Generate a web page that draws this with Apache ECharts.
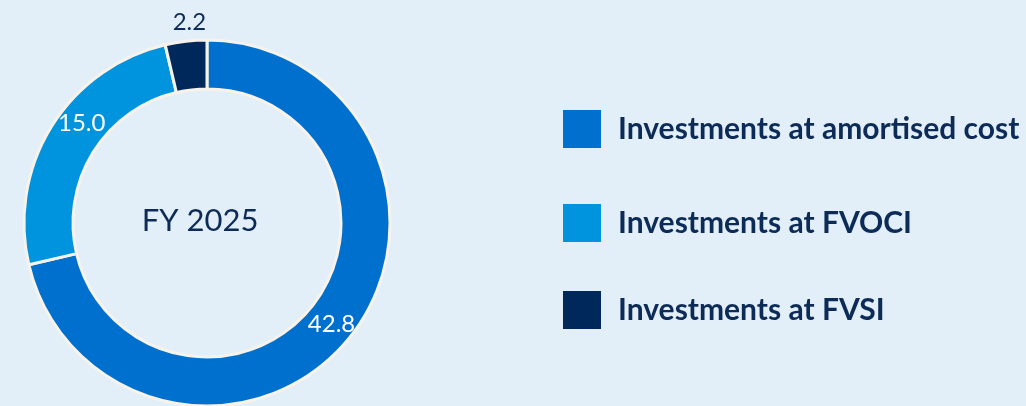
<!DOCTYPE html>
<html>
<head>
<meta charset="utf-8">
<script src="https://cdn.jsdelivr.net/npm/echarts@6/dist/echarts.min.js"></script>
<style>
  html, body { margin: 0; padding: 0; background: #e2eff8; }
  #chart { width: 1026px; height: 406px; }
</style>
</head>
<body>
<div id="chart"></div>
<script>
// Investment portfolio breakdown, FY 2025
const categories = ['Investments at amortised cost', 'Investments at FVOCI', 'Investments at FVSI'];
const values = [42.8, 15.0, 2.2];
const colors = ['#0070cf', '#0094de', '#00285a'];
const centerTitle = 'FY 2025';

const textColor = '#0d2b57';
const fontFamily = 'Lato, "Noto Sans", sans-serif';

// per-slice label placement: the first two sit in the ring, the small one above it
const labelStyles = [
  { color: '#ffffff', offset: [-2, 1] },
  { color: '#ffffff', offset: [12, -15] },
  { color: textColor, offset: [1, -40] }
];

const legendTops = [110, 204, 291];

const chart = echarts.init(document.getElementById('chart'), null, { renderer: 'canvas' });

const option = {
  backgroundColor: '#e2eff8',
  animation: false,
  title: {
    text: centerTitle,
    left: 200,
    top: 221,
    padding: 0,
    textAlign: 'center',
    textVerticalAlign: 'middle',
    textStyle: { color: textColor, fontSize: 31, fontWeight: 'normal', fontFamily: fontFamily }
  },
  legend: categories.map((name, i) => ({
    data: [name],
    left: 563,
    top: legendTops[i],
    padding: 0,
    orient: 'vertical',
    icon: 'rect',
    itemWidth: 38,
    itemHeight: 38,
    itemGap: 0,
    selectedMode: false,
    itemStyle: { borderWidth: 0 },
    textStyle: {
      color: textColor,
      fontSize: 30,
      fontWeight: 'bold',
      fontFamily: fontFamily,
      padding: [0, 0, 0, 12]
    }
  })),
  series: [{
    type: 'pie',
    center: [207, 223],
    radius: [134, 183],
    startAngle: 90,
    clockwise: true,
    silent: true,
    avoidLabelOverlap: false,
    itemStyle: { borderColor: '#f7f3ea', borderWidth: 3 },
    label: {
      show: true,
      position: 'inside',
      fontSize: 24,
      fontFamily: fontFamily,
      formatter: p => p.value.toFixed(1)
    },
    labelLine: { show: false },
    emphasis: { disabled: true },
    data: categories.map((name, i) => ({
      name: name,
      value: values[i],
      itemStyle: { color: colors[i] },
      label: labelStyles[i]
    }))
  }]
};

chart.setOption(option);
</script>
</body>
</html>
